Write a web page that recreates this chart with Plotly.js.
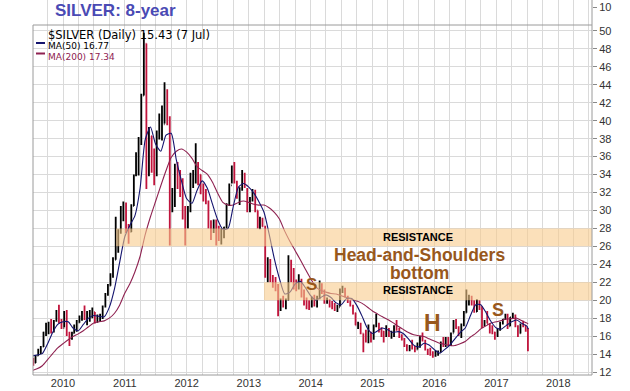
<!DOCTYPE html>
<html><head><meta charset="utf-8">
<script src="https://cdn.plot.ly/plotly-3.0.1.min.js"></script>
<style>html,body{margin:0;padding:0;background:#fff}#chart{width:630px;height:391px}</style>
</head><body><div id="chart"></div>
<script>
// ---- semi-monthly price bars (high / low / close) ----
const barDates = [
 '2009-07-10','2009-07-23','2009-08-08','2009-08-23','2009-09-08','2009-09-23','2009-10-08','2009-10-23','2009-11-08','2009-11-23','2009-12-08','2009-12-23',
 '2010-01-08','2010-01-23','2010-02-08','2010-02-23','2010-03-08','2010-03-23','2010-04-08','2010-04-23','2010-05-08','2010-05-23','2010-06-08','2010-06-23','2010-07-08','2010-07-23','2010-08-08','2010-08-23','2010-09-08','2010-09-23','2010-10-08','2010-10-23','2010-11-08','2010-11-23','2010-12-08','2010-12-23',
 '2011-01-08','2011-01-23','2011-02-08','2011-02-23','2011-03-08','2011-03-23','2011-04-08','2011-04-23','2011-05-08','2011-05-23','2011-06-08','2011-06-23','2011-07-08','2011-07-23','2011-08-08','2011-08-23','2011-09-08','2011-09-23','2011-10-08','2011-10-23','2011-11-08','2011-11-23','2011-12-08','2011-12-23',
 '2012-01-08','2012-01-23','2012-02-08','2012-02-23','2012-03-08','2012-03-23','2012-04-08','2012-04-23','2012-05-08','2012-05-23','2012-06-08','2012-06-23','2012-07-08','2012-07-23','2012-08-08','2012-08-23','2012-09-08','2012-09-23','2012-10-08','2012-10-23','2012-11-08','2012-11-23','2012-12-08','2012-12-23',
 '2013-01-08','2013-01-23','2013-02-08','2013-02-23','2013-03-08','2013-03-23','2013-04-08','2013-04-23','2013-05-08','2013-05-23','2013-06-08','2013-06-23','2013-07-08','2013-07-23','2013-08-08','2013-08-23','2013-09-08','2013-09-23','2013-10-08','2013-10-23','2013-11-08','2013-11-23','2013-12-08','2013-12-23',
 '2014-01-08','2014-01-23','2014-02-08','2014-02-23','2014-03-08','2014-03-23','2014-04-08','2014-04-23','2014-05-08','2014-05-23','2014-06-08','2014-06-23','2014-07-08','2014-07-23','2014-08-08','2014-08-23','2014-09-08','2014-09-23','2014-10-08','2014-10-23','2014-11-08','2014-11-23','2014-12-08','2014-12-23',
 '2015-01-08','2015-01-23','2015-02-08','2015-02-23','2015-03-08','2015-03-23','2015-04-08','2015-04-23','2015-05-08','2015-05-23','2015-06-08','2015-06-23','2015-07-08','2015-07-23','2015-08-08','2015-08-23','2015-09-08','2015-09-23','2015-10-08','2015-10-23','2015-11-08','2015-11-23','2015-12-08','2015-12-23',
 '2016-01-08','2016-01-23','2016-02-08','2016-02-23','2016-03-08','2016-03-23','2016-04-08','2016-04-23','2016-05-08','2016-05-23','2016-06-08','2016-06-23','2016-07-08','2016-07-23','2016-08-08','2016-08-23','2016-09-08','2016-09-23','2016-10-08','2016-10-23','2016-11-08','2016-11-23','2016-12-08','2016-12-23',
 '2017-01-08','2017-01-23','2017-02-08','2017-02-23','2017-03-08','2017-03-23','2017-04-08','2017-04-23','2017-05-08','2017-05-23','2017-06-08','2017-06-23','2017-07-06'
];
const barHigh = [
 13.6,13.9,14.6,14.9,16.5,17.5,17.6,17.9,17.8,18.9,19.5,17.9,
 18.8,18.9,16.5,16.5,17.3,17.8,18.3,18.8,19.4,18.8,18.9,19.2,18.7,18.4,18.5,19.4,20.8,21.8,23.0,24.8,29.3,27.9,30.5,31.0,
 30.9,28.5,30.7,34.0,36.5,38.2,43.0,49.8,48.6,39.3,38.3,36.9,38.9,40.8,41.7,44.3,43.5,40.5,32.5,35.2,35.4,34.5,33.6,30.5,
 30.5,34.2,34.5,37.5,35.4,34.0,33.0,32.4,31.1,28.9,29.0,29.0,28.3,28.0,28.2,30.8,33.0,35.0,35.4,33.3,32.6,34.5,34.2,32.5,
 31.5,32.4,32.3,30.0,29.3,29.2,28.3,24.8,24.6,22.8,22.6,21.8,20.2,20.5,20.2,25.0,24.5,23.6,22.3,22.9,22.4,21.2,20.3,20.0,
 20.4,20.6,20.5,22.2,21.9,21.2,20.3,20.1,19.9,19.7,19.5,21.3,21.6,21.4,20.5,20.0,19.5,18.6,17.6,17.5,16.3,16.7,17.3,16.5,
 17.3,18.5,17.5,17.0,16.6,17.2,16.9,16.6,17.2,17.8,16.9,16.2,15.8,15.1,15.0,15.6,14.9,15.3,16.0,16.4,15.6,14.6,14.7,14.3,
 14.4,14.4,15.4,15.9,15.9,15.9,16.4,17.8,17.9,17.1,17.4,18.8,21.2,20.6,20.5,20.0,20.1,20.0,19.3,17.8,18.8,17.4,17.2,16.5,
 16.9,17.6,17.9,18.5,18.5,18.1,18.6,18.4,17.2,17.4,17.7,17.2,16.9
];
const barLow = [
 12.7,13.0,13.8,14.0,14.8,16.0,16.2,16.3,16.4,17.6,17.4,16.8,
 17.0,16.0,14.9,15.6,16.3,16.5,17.5,17.7,17.8,17.2,17.6,18.0,17.4,17.5,17.6,17.9,19.2,20.5,21.6,22.5,24.5,25.3,27.4,28.8,
 27.5,26.3,27.6,30.5,33.8,33.9,37.3,42.8,32.4,33.8,34.2,32.8,33.8,37.9,37.8,39.7,39.5,26.1,29.8,30.4,32.4,31.5,29.0,26.1,
 28.0,29.8,32.5,33.0,32.8,31.8,31.0,30.7,28.0,26.7,27.5,26.1,26.6,26.2,26.9,28.0,30.5,33.0,33.0,31.3,30.6,32.2,32.5,29.8,
 29.8,31.0,29.8,28.0,27.9,28.2,22.5,22.0,22.0,21.4,21.0,18.2,18.8,19.2,19.0,20.0,22.0,21.2,21.0,21.2,20.3,19.4,19.0,18.9,
 19.2,19.3,19.2,20.1,20.7,19.6,19.6,19.2,19.0,18.8,18.7,19.3,20.8,20.3,19.7,19.3,18.4,17.2,16.8,16.2,14.2,15.3,15.2,15.3,
 15.6,17.0,16.4,15.9,15.3,15.9,15.9,15.7,15.9,16.6,15.8,15.5,14.8,14.3,14.3,14.5,14.2,14.5,14.7,15.4,14.4,13.9,13.8,13.6,
 13.7,13.8,14.2,14.8,14.8,14.9,14.9,16.4,16.8,16.0,15.8,17.1,18.6,19.4,19.4,18.6,18.7,18.9,16.9,17.1,17.4,16.3,16.2,15.6,
 15.9,16.6,17.3,17.8,16.8,17.1,17.9,17.0,15.9,16.3,17.0,16.5,14.3
];
const barClose = [
 13.0,13.8,14.2,14.8,16.4,16.6,17.4,16.5,17.7,18.5,17.6,16.9,
 18.5,16.2,15.8,16.3,16.9,17.5,18.0,18.5,18.2,18.5,18.6,18.7,18.0,18.2,18.2,19.3,20.6,21.6,22.8,24.5,27.0,27.5,29.5,30.6,
 28.0,27.6,30.5,33.9,35.4,37.9,42.8,48.6,35.0,38.3,35.6,34.7,38.6,39.5,39.6,41.6,40.0,30.5,31.5,34.5,34.2,32.5,29.3,28.2,
 30.0,33.5,33.6,34.5,34.0,32.5,31.6,31.0,28.3,27.9,28.5,27.3,27.1,27.9,28.1,30.6,32.8,34.6,33.2,31.8,32.3,33.8,32.8,30.1,
 31.2,31.8,30.0,28.6,28.9,28.2,23.5,24.2,22.4,22.3,21.2,19.6,19.9,19.6,20.0,23.7,22.1,21.7,21.4,22.1,20.4,19.8,19.6,19.4,
 20.2,19.4,20.2,21.3,21.0,19.8,20.0,19.6,19.4,18.9,19.2,21.0,21.1,20.4,19.9,19.4,18.6,17.2,17.4,16.3,15.5,15.5,16.0,15.7,
 17.1,17.2,16.7,16.5,16.3,16.6,16.1,16.2,17.1,16.8,15.9,15.6,15.0,14.7,14.9,14.6,14.5,14.8,15.8,15.5,14.5,14.1,14.0,13.8,
 14.2,14.2,15.3,14.9,15.6,15.4,16.3,17.6,17.0,16.1,17.3,18.6,20.1,20.3,19.8,18.7,19.6,19.3,17.4,17.6,17.3,16.5,16.4,16.0,
 16.8,17.4,17.9,18.2,17.1,18.1,18.3,17.1,16.3,17.3,17.2,16.6,15.43
];
const firstOpen = 13.3;

// ---- moving averages, monthly readings ----
const maDates = [
 '2009-07-08','2009-08-01','2009-09-01','2009-10-01','2009-11-01','2009-12-01',
 '2010-01-01','2010-02-01','2010-03-01','2010-04-01','2010-05-01','2010-06-01','2010-07-01','2010-08-01','2010-09-01','2010-10-01','2010-11-01','2010-12-01',
 '2011-01-01','2011-02-01','2011-03-01','2011-04-01','2011-05-01','2011-06-01','2011-07-01','2011-08-01','2011-09-01','2011-10-01','2011-11-01','2011-12-01',
 '2012-01-01','2012-02-01','2012-03-01','2012-04-01','2012-05-01','2012-06-01','2012-07-01','2012-08-01','2012-09-01','2012-10-01','2012-11-01','2012-12-01',
 '2013-01-01','2013-02-01','2013-03-01','2013-04-01','2013-05-01','2013-06-01','2013-07-01','2013-08-01','2013-09-01','2013-10-01','2013-11-01','2013-12-01',
 '2014-01-01','2014-02-01','2014-03-01','2014-04-01','2014-05-01','2014-06-01','2014-07-01','2014-08-01','2014-09-01','2014-10-01','2014-11-01','2014-12-01',
 '2015-01-01','2015-02-01','2015-03-01','2015-04-01','2015-05-01','2015-06-01','2015-07-01','2015-08-01','2015-09-01','2015-10-01','2015-11-01','2015-12-01',
 '2016-01-01','2016-02-01','2016-03-01','2016-04-01','2016-05-01','2016-06-01','2016-07-01','2016-08-01','2016-09-01','2016-10-01','2016-11-01','2016-12-01',
 '2017-01-01','2017-02-01','2017-03-01','2017-04-01','2017-05-01','2017-06-01','2017-07-01','2017-07-07'
];
const ma50 = [
 13.8,13.9,14.05,15.1,16.4,17.3,
 17.6,17.6,16.9,16.6,17.3,18.0,18.3,18.2,18.15,19.2,21.3,24.2,
 27.1,28.4,29.4,32.5,37.9,39.3,37.4,36.6,38.4,38.6,35.6,33.3,
 31.3,30.8,32.2,33.3,32.5,30.7,29.0,27.9,28.0,30.4,32.6,33.0,
 32.6,31.9,31.0,29.8,27.4,24.6,22.4,20.7,20.9,21.8,22.1,21.4,
 20.5,20.0,20.3,20.6,20.3,19.7,19.5,20.2,20.2,19.4,18.2,16.9,
 16.3,16.6,16.9,16.7,16.4,16.5,16.3,15.7,15.0,14.8,15.2,15.0,
 14.5,14.1,14.5,15.0,15.7,16.4,16.9,18.3,19.5,19.5,18.6,17.6,
 16.9,16.8,17.2,17.6,17.8,17.4,17.1,16.77
];
const ma200 = [
 12.2,12.35,12.7,13.35,14.05,14.7,
 15.15,15.6,15.95,16.25,16.6,17.05,17.45,17.6,17.7,18.0,18.55,19.45,
 20.8,21.9,23.15,24.9,27.3,29.3,31.0,32.75,34.45,35.9,36.6,36.85,
 36.5,35.8,34.9,34.45,34.05,33.15,31.95,30.9,30.6,30.6,30.9,31.05,
 30.9,30.7,30.6,30.6,30.3,29.8,29.05,27.7,26.55,25.55,24.5,23.45,
 22.4,21.5,21.1,20.9,20.75,20.7,20.5,20.3,20.1,19.9,19.65,19.25,
 18.8,18.45,18.15,17.85,17.5,17.1,16.75,16.4,16.15,16.05,15.95,15.7,
 15.45,15.2,15.1,14.95,14.95,15.15,15.4,15.9,16.3,16.8,17.15,17.45,
 17.6,17.75,17.9,17.95,18.0,17.7,17.45,17.34
];

// ---- axes ----
const xTickVals = [
 '2009-10-01','2010-01-01','2010-04-01','2010-07-01','2010-10-01','2011-01-01','2011-04-01','2011-07-01','2011-10-01',
 '2012-01-01','2012-04-01','2012-07-01','2012-10-01','2013-01-01','2013-04-01','2013-07-01','2013-10-01',
 '2014-01-01','2014-04-01','2014-07-01','2014-10-01','2015-01-01','2015-04-01','2015-07-01','2015-10-01',
 '2016-01-01','2016-04-01','2016-07-01','2016-10-01','2017-01-01','2017-04-01','2017-07-01','2017-10-01',
 '2018-01-01','2018-04-01','2018-07-01'
];
const xTickText = [
 '','2010','','','','2011','','','',
 '2012','','','','2013','','','',
 '2014','','','','2015','','','',
 '2016','','','','2017','','','',
 '2018','',''
];
const yTickVals = [12,14,16,18,20,22,24,26,28,30,32,34,36,38,40,42,44,46,48,50];
const resistanceBands = [ {from:'2010-11-10', lo:26, hi:28}, {from:'2013-04-01', lo:20, hi:22} ];

const barOpen = barClose.map((c, i) => i === 0 ? firstOpen : barClose[i - 1]);

const navy = '#14146e', maroon = '#8e2150';
const traces = [
 {type:'ohlc', x:barDates, open:barOpen, high:barHigh, low:barLow, close:barClose,
  increasing:{line:{color:'#000000', width:1.8}}, decreasing:{line:{color:'#c0143c', width:1.8}},
  tickwidth:0.3, hoverinfo:'skip', showlegend:false},
 {type:'scatter', mode:'lines', x:maDates, y:ma200, line:{color:maroon, width:1.1, shape:'spline', smoothing:0.6}, hoverinfo:'skip', showlegend:false},
 {type:'scatter', mode:'lines', x:maDates, y:ma50, line:{color:navy, width:1.1, shape:'spline', smoothing:0.6}, hoverinfo:'skip', showlegend:false},
 {type:'scatter', mode:'lines', x:[], y:[], xaxis:'x', yaxis:'y2', hoverinfo:'skip', showlegend:false}
];

const xEnd = '2018-07-19';
const shapes = resistanceBands.map(b => ({type:'rect', xref:'x', yref:'y', x0:b.from, x1:xEnd, y0:b.lo, y1:b.hi,
  fillcolor:'#f8cb8c', opacity:0.6, line:{width:0}, layer:'above'}));
const mainTop = 350/375;
shapes.push({type:'rect', xref:'paper', yref:'paper', x0:0, x1:1, y0:0, y1:mainTop, line:{color:'#9a9a9a', width:1}, layer:'above'});
shapes.push({type:'line', xref:'paper', yref:'paper', x0:1, x1:1, y0:mainTop, y1:1, line:{color:'#9a9a9a', width:1}, layer:'above'});
shapes.push({type:'line', xref:'paper', yref:'paper', x0:3/559, x1:12/559, y0:(375-43)/375, y1:(375-43)/375, line:{color:navy, width:2}});
shapes.push({type:'line', xref:'paper', yref:'paper', x0:3/559, x1:12/559, y0:(375-53.5)/375, y1:(375-53.5)/375, line:{color:maroon, width:2}});

const brown = '#98581c';
const bold = 'Liberation Sans, Arial, sans-serif';
const legendText =
 '<span style="font-size:11.5px">$SILVER (Daily) 15.43 (7 Jul)</span><br>' +
 '<span style="font-size:9px">MA(50) 16.77</span><br>' +
 '<span style="font-size:9px;fill:' + maroon + '">MA(200) 17.34</span>';
const annotations = [
 {xref:'paper', yref:'paper', x:20/559, y:(375-11)/375, xanchor:'left', yanchor:'middle', showarrow:false,
  text:'<b>SILVER: 8-year</b>', font:{family:bold, size:17, color:'#4a4ab4'}},
 {xref:'paper', yref:'paper', x:13/559, y:(375-26)/375, xanchor:'left', yanchor:'top', align:'left', showarrow:false,
  text:legendText, font:{family:'DejaVu Sans, sans-serif', size:8, color:'#000'}},
 {x:'2015-09-28', y:27.05, xref:'x', yref:'y', showarrow:false, text:'<b>RESISTANCE</b>', font:{family:bold, size:11, color:'#000'}},
 {x:'2015-09-28', y:21.1, xref:'x', yref:'y', showarrow:false, text:'<b>RESISTANCE</b>', font:{family:bold, size:11, color:'#000'}},
 {x:'2015-10-06', y:24.03, xref:'x', yref:'y', showarrow:false, align:'center',
  text:'<span style="font-size:17.5px"><b>Head-and-Shoulders</b></span><br><span style="font-size:17.5px"><b>bottom</b></span>',
  font:{family:bold, size:14, color:brown}},
 {x:'2014-01-09', y:21.7, xref:'x', yref:'y', showarrow:false, text:'<b>S</b>', font:{family:bold, size:17, color:brown}},
 {x:'2015-12-18', y:17.5, xref:'x', yref:'y', showarrow:false, text:'<b>H</b>', font:{family:bold, size:23, color:brown}},
 {x:'2017-01-11', y:18.9, xref:'x', yref:'y', showarrow:false, text:'<b>S</b>', font:{family:bold, size:18, color:brown}}
];

const tickFont = {family:'Liberation Sans, Arial, sans-serif', size:11, color:'#333'};
const layout = {
 width:630, height:391,
 margin:{l:33, r:38, t:0, b:16, pad:0},
 paper_bgcolor:'#fff', plot_bgcolor:'#fff',
 showlegend:false,
 xaxis:{type:'date', range:['2009-07-08', xEnd], tickmode:'array', tickvals:xTickVals, ticktext:xTickText,
   showgrid:true, gridcolor:'#dadada', gridwidth:1, zeroline:false, showline:false, ticks:'', tickfont:tickFont,
   rangeslider:{visible:false}, fixedrange:true},
 yaxis:{domain:[0, mainTop], range:[11.667, 50.667], side:'right', tickmode:'array', tickvals:yTickVals,
   showgrid:true, gridcolor:'#dadada', gridwidth:1, zeroline:false, showline:false,
   ticks:'outside', ticklen:4, tickcolor:'#888', tickfont:tickFont, fixedrange:true},
 yaxis2:{domain:[mainTop, 1], anchor:'x', range:[0, 13.89], side:'right', tickmode:'array', tickvals:[10],
   showgrid:false, zeroline:false, showline:false, ticks:'outside', ticklen:4, tickcolor:'#888', tickfont:tickFont, fixedrange:true},
 shapes:shapes,
 annotations:annotations
};
Plotly.newPlot('chart', traces, layout, {staticPlot:true, displayModeBar:false});
</script>
</body></html>
